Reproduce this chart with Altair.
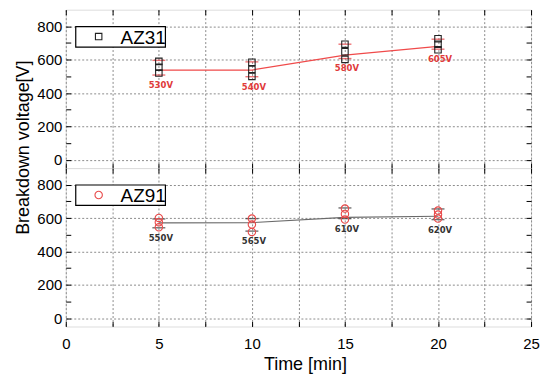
import altair as alt
import pandas as pd

# ---------------- data ----------------
times = [5, 10, 15, 20]
series_names = ["AZ31", "AZ91"]

az31_mean = [538, 538, 627, 680]
az31_pt1 = [590, 585, 693, 726]
az31_pt2 = [555, 542, 648, 693]
az31_pt3 = [520, 500, 602, 660]
az31_hi = [596, 587, 693, 723]
az31_lo = [508, 498, 607, 663]
az31_labels = ["530V", "540V", "580V", "605V"]

az91_mean = [571, 573, 604, 611]
az91_pt1 = [601, 597, 657, 645]
az91_pt2 = [575, 561, 625, 621]
az91_pt3 = [545, 517, 591, 597]
az91_hi = [595, 597, 661, 655]
az91_lo = [542, 522, 597, 591]
az91_labels = ["550V", "565V", "610V", "620V"]

x_ticks = [0, 2.5, 5, 7.5, 10, 12.5, 15, 17.5, 20, 22.5, 25]
y_ticks = [0, 100, 200, 300, 400, 500, 600, 700, 800]

x_title = "Time [min]"
y_title = "Breakdown voltage[V]"

# ---------------- layout ----------------
W, H = 467, 159
FONT = "Liberation Sans"
xs = alt.Scale(domain=[0, 25], nice=False, zero=False)
ys = alt.Scale(domain=[-50, 900], nice=False, zero=False)


def grid_x_axis(bottom):
    kw = dict(values=x_ticks, grid=True, gridColor="#8c8c8c", gridDash=[2, 2],
              gridWidth=1, ticks=False, domain=False, labels=bottom,
              labelExpr="datum.value % 5 === 0 ? datum.label : ''",
              labelFontSize=15, labelFont=FONT, labelColor="black",
              labelPadding=10, labelFlush=False, orient="bottom")
    if bottom:
        kw.update(title=x_title, titleFontSize=18, titleFont=FONT,
                  titleFontWeight="normal", titleColor="black", titlePadding=4,
                  titleX=240)
    else:
        kw.update(title=None)
    return alt.Axis(**kw)


def grid_y_axis(top):
    kw = dict(values=y_ticks, grid=True, gridColor="#8c8c8c", gridDash=[2, 2],
              gridWidth=1,
              gridOpacity={"condition": {"test": "datum.value % 200 === 0", "value": 1}, "value": 0},
              labelExpr="datum.value % 200 === 0 ? datum.label : ''",
              ticks=False, domain=False, labelFontSize=15, labelFont=FONT,
              labelColor="black", labelPadding=4, orient="left")
    if top:
        kw.update(title=y_title, titleFontSize=18, titleFont=FONT,
                  titleFontWeight="normal", titleColor="black",
                  titleX=-42, titleY=138, titleAngle=-90, titleAlign="center",
                  titleBaseline="middle")
    else:
        kw.update(title=None)
    return alt.Axis(**kw)


def tick_axis(values, orient):
    return alt.Axis(values=values, grid=False, labels=False, domain=False,
                    ticks=True, tickSize=5, tickColor="black", tickWidth=1,
                    offset=-5, title=None, orient=orient)


def panel(name, mean, p1, p2, p3, hi, lo, labels, shape, msize, mstroke,
          lcolor, ccolor, tcolor, top):
    summ = pd.DataFrame({"t": times, "mean": mean, "hi": hi, "lo": lo, "lab": labels})
    pts = pd.DataFrame({"t": times * 3, "v": p1 + p2 + p3})
    leg = pd.DataFrame({"name": [name]})

    line = alt.Chart(summ).mark_line(color=lcolor, strokeWidth=1.2).encode(
        x=alt.X("t:Q", scale=xs, axis=grid_x_axis(not top)),
        y=alt.Y("mean:Q", scale=ys, axis=grid_y_axis(top)),
    )
    caps_hi = alt.Chart(summ).mark_tick(orient="horizontal", size=13, thickness=1.4,
                                        color=ccolor).encode(
        x=alt.X("t:Q", scale=xs, axis=tick_axis(x_ticks, "bottom")),
        y=alt.Y("hi:Q", scale=ys, axis=tick_axis(y_ticks, "left")),
    )
    caps_lo = alt.Chart(summ).mark_tick(orient="horizontal", size=13, thickness=1.4,
                                        color=ccolor).encode(
        x=alt.X("t:Q", scale=xs, axis=tick_axis(x_ticks, "top")),
        y=alt.Y("lo:Q", scale=ys, axis=tick_axis(y_ticks, "right")),
    )
    points = alt.Chart(pts).mark_point(shape=shape, size=msize, filled=False,
                                       stroke=mstroke, strokeWidth=1.1,
                                       opacity=1).encode(
        x=alt.X("t:Q", scale=xs, axis=None),
        y=alt.Y("v:Q", scale=ys, axis=None),
    )
    text = alt.Chart(summ).mark_text(font="DejaVu Sans", fontWeight="bold",
                                     fontSize=8.5, color=tcolor, dy=10, dx=2,
                                     baseline="middle", align="center").encode(
        x=alt.X("t:Q", scale=xs, axis=None),
        y=alt.Y("lo:Q", scale=ys, axis=None),
        text="lab:N",
    )
    leg_box = alt.Chart(leg).mark_rect(fill="white", stroke="black",
                                       strokeWidth=1.2).encode(
        x=alt.value(10), x2=alt.value(100), y=alt.value(17), y2=alt.value(37.5))
    leg_sym = alt.Chart(leg).mark_point(shape=shape, size=msize, filled=False,
                                        stroke=mstroke, strokeWidth=1.1,
                                        opacity=1).encode(
        x=alt.value(33), y=alt.value(27))
    leg_txt = alt.Chart(leg).mark_text(font=FONT, fontSize=19, color="black",
                                       align="left", baseline="middle").encode(
        x=alt.value(55), y=alt.value(28), text="name:N")

    return alt.layer(line, caps_hi, caps_lo, points, text, leg_box, leg_sym,
                     leg_txt).resolve_axis(x="independent", y="independent"
                                           ).properties(width=W, height=H)


top = panel(series_names[0], az31_mean, az31_pt1, az31_pt2, az31_pt3, az31_hi,
            az31_lo, az31_labels, "square", 42, "#222222", "#f04a4a",
            "#e8383c", "#e03a3a", True)
bottom = panel(series_names[1], az91_mean, az91_pt1, az91_pt2, az91_pt3, az91_hi,
               az91_lo, az91_labels, "circle", 55, "#e84a4a", "#6a6a6a",
               "#333333", "#333333", False)

chart = alt.vconcat(top, bottom, spacing=0, bounds="flush").properties(
    padding={"left": 6, "top": 0, "right": 5, "bottom": 0}
).configure_view(stroke="black", strokeWidth=1.5).configure(background="white")

chart.save("out.html", embed_options={"renderer": "svg", "actions": False})
